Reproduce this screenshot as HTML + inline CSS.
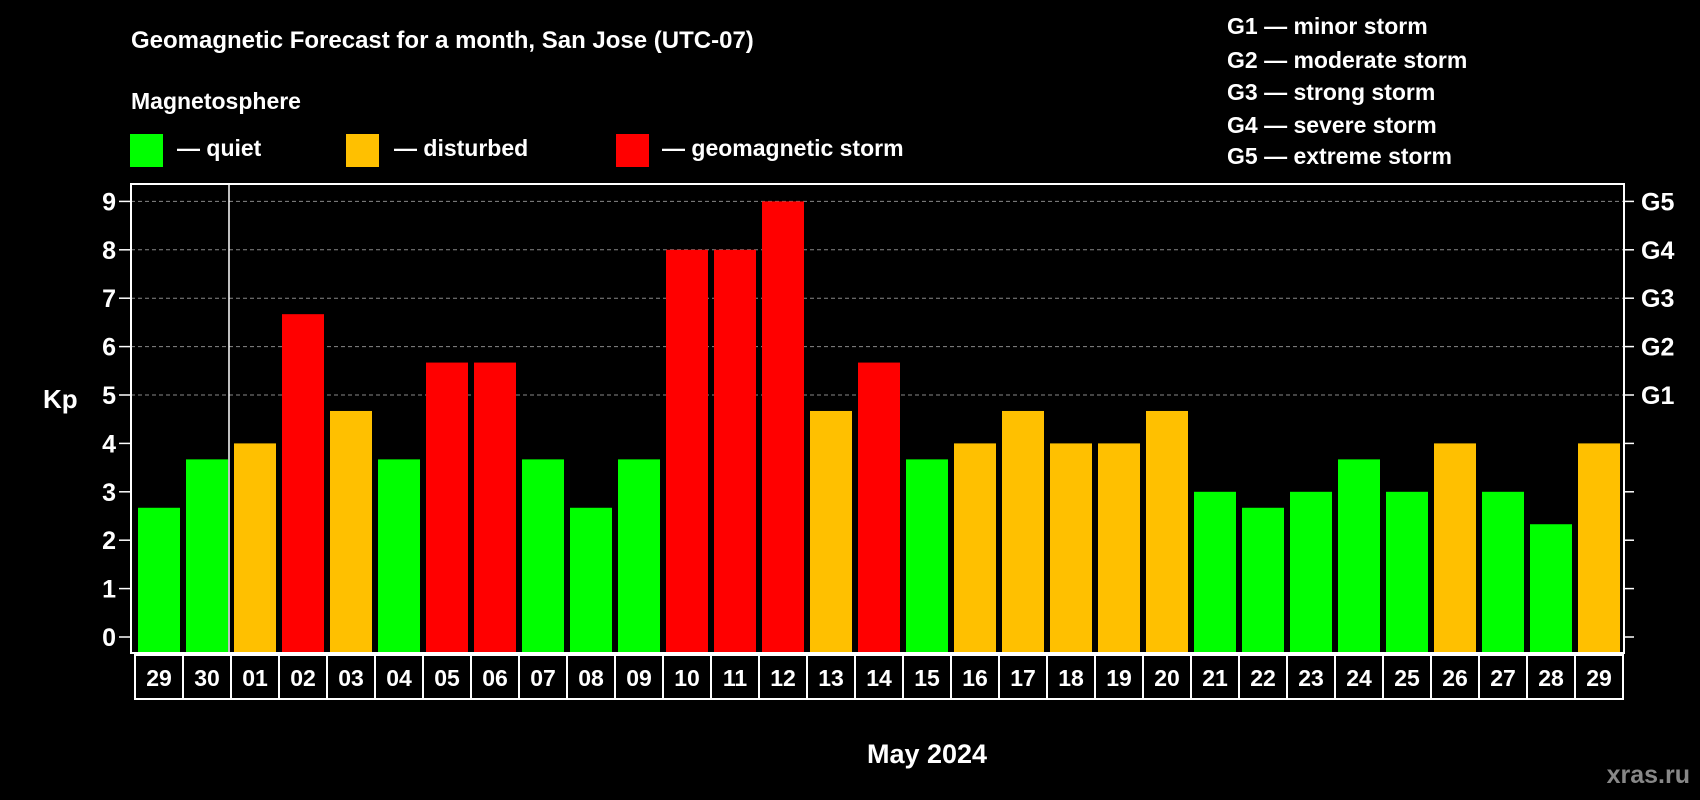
<!DOCTYPE html>
<html><head><meta charset="utf-8"><style>
body{margin:0;background:#000;}
svg{display:block;font-family:"Liberation Sans",Arial,sans-serif;font-weight:bold;}
</style></head><body>
<svg id="chart" width="1700" height="800" viewBox="0 0 1700 800" xmlns="http://www.w3.org/2000/svg">
<rect width="1700" height="800" fill="#000"/>
<text x="131" y="48" fill="#fff" font-size="24">Geomagnetic Forecast for a month, San Jose (UTC-07)</text>
<text x="131" y="109" fill="#fff" font-size="23">Magnetosphere</text>
<rect x="130" y="134" width="33" height="33" fill="#00ff00"/>
<text x="177" y="156" fill="#fff" font-size="23">— quiet</text>
<rect x="346" y="134" width="33" height="33" fill="#ffc000"/>
<text x="394" y="156" fill="#fff" font-size="23">— disturbed</text>
<rect x="616" y="134" width="33" height="33" fill="#ff0000"/>
<text x="662" y="156" fill="#fff" font-size="23">— geomagnetic storm</text>
<g fill="#fff" font-size="23">
<text x="1227" y="34">G1 — minor storm</text>
<text x="1227" y="68">G2 — moderate storm</text>
<text x="1227" y="100">G3 — strong storm</text>
<text x="1227" y="133">G4 — severe storm</text>
<text x="1227" y="164">G5 — extreme storm</text>
</g>
<text x="43" y="408" fill="#fff" font-size="26">Kp</text>
<text x="927" y="763" fill="#fff" font-size="27" text-anchor="middle">May 2024</text>
<text x="1690" y="783" fill="#888" font-size="25" text-anchor="end">xras.ru</text>
<g id="plot"></g>
</svg>
<script>
const labels=["29","30","01","02","03","04","05","06","07","08","09","10","11","12","13","14","15","16","17","18","19","20","21","22","23","24","25","26","27","28","29"];
const kp=[2.67,3.67,4,6.67,4.67,3.67,5.67,5.67,3.67,2.67,3.67,8,8,9,4.67,5.67,3.67,4,4.67,4,4,4.67,3,2.67,3,3.67,3,4,3,2.33,4];
const yTicks=[0,1,2,3,4,5,6,7,8,9];
const gLabels=["G1","G2","G3","G4","G5"];
const NS="http://www.w3.org/2000/svg";
const g=document.getElementById('plot');
const L=131,R=1624,T=184,B=653,x0=135,pitch=48;
const y=v=>637-v*48.4;
const x=i=>x0+i*pitch;
function mk(t,a){const e=document.createElementNS(NS,t);for(const k in a)e.setAttribute(k,a[k]);g.appendChild(e);return e;}
function col(v){return v>=5?"#ff0000":v>=4?"#ffc000":"#00ff00";}
yTicks.forEach(v=>{
  if(v>=5){const l=mk('line',{x1:L,x2:R,y1:y(v),y2:y(v),stroke:'#888','stroke-dasharray':'4,3','stroke-width':1});
  
  }
  const t1=mk('line',{x1:L-12,x2:L,y1:y(v),y2:y(v),stroke:'#fff','stroke-width':1.5});
  
  
  const t2=mk('line',{x1:R,x2:R+10,y1:y(v),y2:y(v),stroke:'#fff','stroke-width':1.5});
  
  
  const tx=mk('text',{x:116,y:y(v)+9,fill:'#fff','font-size':25,'text-anchor':'end'});tx.textContent=v;
  
  
  if(v>=5){const gt=mk('text',{x:1641,y:y(v)+9,fill:'#fff','font-size':25});gt.textContent=gLabels[v-5];
  
  }
});
kp.forEach((v,i)=>{
  const b=mk('rect',{x:x(i)+3,y:y(v),width:42,height:B-y(v),fill:col(v)});
  
  
  const c=mk('rect',{x:x(i),y:655,width:pitch,height:44,fill:'none',stroke:'#fff','stroke-width':2});
  
  
  const t=mk('text',{x:x(i)+pitch/2,y:686,fill:'#fff','font-size':23,'text-anchor':'middle'});t.textContent=labels[i];
  
  
});
const sep=mk('line',{x1:x(2)-2,x2:x(2)-2,y1:T,y2:B,stroke:'#fff','stroke-width':1.5});


const fr=mk('rect',{x:L,y:T,width:R-L,height:B-T,fill:'none',stroke:'#fff','stroke-width':2});


</script>
</body></html>
